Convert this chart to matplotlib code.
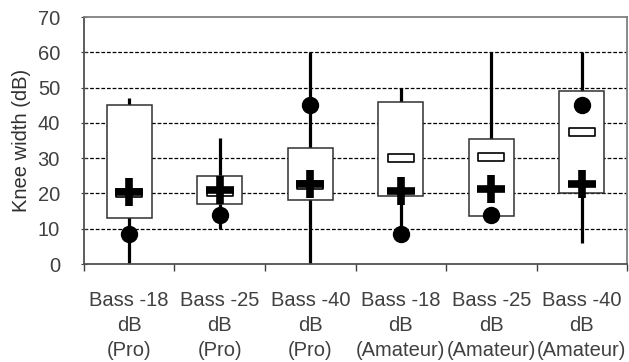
import matplotlib.pyplot as plt
import numpy as np
from matplotlib.path import Path

plt.rcParams['font.family'] = ['Liberation Sans', 'DejaVu Sans']

labels = ['Bass -18\ndB\n(Pro)', 'Bass -25\ndB\n(Pro)', 'Bass -40\ndB\n(Pro)',
          'Bass -18\ndB\n(Amateur)', 'Bass -25\ndB\n(Amateur)', 'Bass -40\ndB\n(Amateur)']
whisk_low = [0, 10, 0, 9, 13.6, 6]
box_low = [13, 17, 18, 19.4, 13.6, 20]
box_high = [45, 25, 33, 46, 35.3, 49]
whisk_high = [47, 35.7, 60, 50, 60, 60]
median = [20.2, 20.5, 22.5, 30, 30.2, 37.5]
mean = [20.5, 21, 22.7, 20.7, 21.3, 22.8]
dots = [8.5, 14, 45, 8.5, 14, 45]

gray = '#404040'
x = np.arange(len(labels))

fig = plt.figure(figsize=(6.29, 3.62), dpi=100)
ax = fig.add_axes([0.1335, 0.2707, 0.8635, 0.6823])

# dashed horizontal gridlines
for y in range(10, 70, 10):
    ax.axhline(y, color='black', lw=0.9, ls=(0, (3, 1.5)), zorder=1)

# whiskers, boxes, median dash, mean plus, dot
ax.vlines(x, whisk_low, whisk_high, color='black', lw=2.3, zorder=2)
ax.bar(x, np.array(box_high) - np.array(box_low), bottom=box_low, width=0.5,
       color='white', edgecolor='#303030', lw=1.1, zorder=3)

dash = Path([(-1, -0.3), (1, -0.3), (1, 0.3), (-1, 0.3), (-1, -0.3)],
            [Path.MOVETO, Path.LINETO, Path.LINETO, Path.LINETO, Path.CLOSEPOLY])
ax.plot(x, median, ls='none', marker=dash, ms=19, mfc='white', mec='black',
        mew=1.2, zorder=4)
ax.plot(x, mean, ls='none', marker='+', ms=20, mec='black', mew=5.5, zorder=5)
ax.plot(x, dots, ls='none', marker='o', ms=11.5, color='black', zorder=6)

ax.set_xlim(-0.5, len(labels) - 0.5)
ax.set_ylim(0, 70)
ax.set_yticks(range(0, 80, 10))
ax.set_xticks(np.arange(-0.5, len(labels), 1))
ax.set_xticklabels([])
ax.set_xticks(x, minor=True)
ax.set_xticklabels(labels, minor=True, fontsize=14.5, color=gray, linespacing=1.4)
ax.tick_params(axis='x', which='minor', length=0, pad=19.5)
ax.tick_params(axis='x', which='major', length=5, direction='out', color=gray, width=1)
ax.tick_params(axis='y', length=4.5, direction='inout', color=gray, labelsize=14.5,
               labelcolor=gray, pad=15)
ax.set_ylabel('Knee width (dB)', fontsize=14.5, color='#303030')
ax.yaxis.set_label_coords(-0.097, 0.5)

for side in ['left', 'bottom']:
    ax.spines[side].set_color('#505050')
    ax.spines[side].set_linewidth(1.3)
for side in ['top', 'right']:
    ax.spines[side].set_color('#808080')
    ax.spines[side].set_linewidth(1.3)

fig.savefig('out.png', dpi=100)
